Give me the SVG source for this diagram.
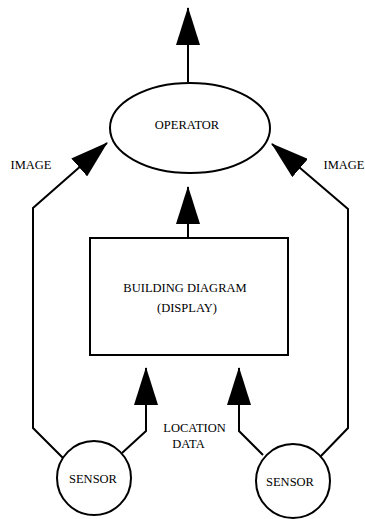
<svg xmlns="http://www.w3.org/2000/svg" width="365" height="519" viewBox="0 0 365 519">
<defs>
<style>
.ln{fill:none;stroke:#000;stroke-width:2;stroke-linejoin:miter}
.nd{fill:#fff;stroke:#000;stroke-width:2}
.t{font-family:'Times New Roman','Liberation Serif',Tinos,serif;font-size:12.5px;fill:#000;text-anchor:middle}
</style>
<marker id="ah" viewBox="0 0 38 24" refX="37" refY="12" markerWidth="38" markerHeight="24" markerUnits="userSpaceOnUse" orient="auto">
<path d="M0,0 L38,12 L0,24 Z" fill="#000"/>
</marker>
</defs>
<rect width="365" height="519" fill="#fff"/>
<g id="connectors">
<path class="ln" d="M188,82 L188,8" marker-end="url(#ah)"/>
<path class="ln" d="M188,238 L188,187" marker-end="url(#ah)"/>
<path class="ln" d="M63,458 L33,428 L33,208 L107,143" marker-end="url(#ah)"/>
<path class="ln" d="M320,457 L348,428 L348,209 L272,144" marker-end="url(#ah)"/>
<path class="ln" d="M122,453 L146,431 L146,368" marker-end="url(#ah)"/>
<path class="ln" d="M263,455 L239,431 L239,368" marker-end="url(#ah)"/>
</g>
<g id="operator">
<ellipse class="nd" cx="190" cy="128" rx="80" ry="45"/>
<text class="t" x="187" y="128.5">OPERATOR</text>
</g>
<g id="building">
<rect class="nd" x="90" y="238" width="198" height="117"/>
<text class="t" x="185" y="291.5">BUILDING DIAGRAM</text>
<text class="t" x="187" y="311.5">(DISPLAY)</text>
</g>
<g id="sensor1">
<circle class="nd" cx="94" cy="478" r="37"/>
<text class="t" x="93" y="483">SENSOR</text>
</g>
<g id="sensor2">
<circle class="nd" cx="293" cy="481" r="37"/>
<text class="t" x="290" y="486">SENSOR</text>
</g>
<g id="labels">
<text class="t" x="31" y="168.5">IMAGE</text>
<text class="t" x="344" y="168.5">IMAGE</text>
<text class="t" x="194.5" y="431.5">LOCATION</text>
<text class="t" x="188.5" y="447.5">DATA</text>
</g>
</svg>
